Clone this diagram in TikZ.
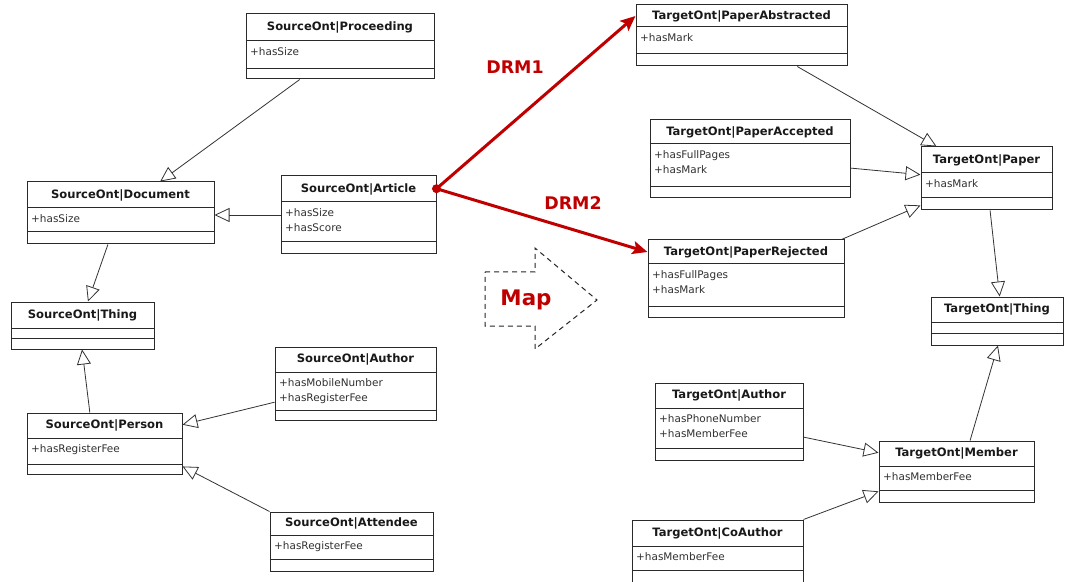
\documentclass[tikz,border=0pt]{standalone}
\usepackage{fontspec}
\setmainfont{DejaVu Sans}
\usetikzlibrary{arrows.meta,calc,fit}
\definecolor{drmred}{HTML}{C00000}
\definecolor{boxline}{HTML}{2A2A2A}
\definecolor{attrtext}{HTML}{303030}
\tikzset{
  umlframe/.style={draw=boxline, line width=1bp, inner sep=0pt, fill=white},
  umlline/.style={draw=boxline, line width=1bp},
  umltitle/.style={inner sep=0pt, font=\bfseries\fontsize{11.6}{13}\selectfont, text=black!90},
  umlattr/.style={anchor=north west, inner xsep=4bp, inner ysep=6.5bp, align=left,
    font=\fontsize{10.5}{15}\selectfont, text=attrtext},
  gen/.style={draw=black!80, line width=0.8bp, -{Triangle[open, length=15bp, width=14bp]}},
  drm/.style={draw=drmred, line width=3bp, -{Stealth[length=15bp, width=13bp, inset=3bp]}},
  drmlabel/.style={text=drmred, font=\bfseries\fontsize{17.5}{19}\selectfont, inner sep=0pt},
  maplabel/.style={text=drmred, font=\bfseries\fontsize{21.5}{24}\selectfont, inner sep=0pt},
  mapshape/.style={draw=black!85, line width=1bp, dash pattern=on 5bp off 4bp}
}
\newcommand\umlcls[9]{%
  \node[umlframe, fit={(#2,#3)(#4,#7)}] (#1) {};
  \draw[umlline] (#2,#5) -- (#4,#5);
  \draw[umlline] (#2,#6) -- (#4,#6);
  \node[umltitle] (#1-t) at ($(#2,#3)!0.5!(#4,#5)$) {#8};
  \node[umlattr] (#1-a) at (#2,#5) {#9};
}
\begin{document}
\begin{tikzpicture}[x=1bp, y=-1bp]
\useasboundingbox[fill=white] (0,0) rectangle (1065,582);

% Source ontology
\umlcls{sproc}{246}{14}{434}{41}{69}{79}{SourceOnt|Proceeding}{+hasSize}
\umlcls{sdoc}{27}{182}{214}{208}{232}{244}{SourceOnt|Document}{+hasSize}
\umlcls{sart}{281}{176}{436}{202}{242}{254}{SourceOnt|Article}{+hasSize\\+hasScore}
\umlcls{sthing}{11}{302}{154}{328}{338}{349}{SourceOnt|Thing}{}
\umlcls{sperson}{27}{413}{182}{438}{464}{474}{SourceOnt|Person}{+hasRegisterFee}
\umlcls{sauthor}{275}{347}{436}{372}{410}{420}{SourceOnt|Author}{+hasMobileNumber\\+hasRegisterFee}
\umlcls{sattend}{270}{512}{433}{535}{559}{571}{SourceOnt|Attendee}{+hasRegisterFee}

% Target ontology
\umlcls{tabs}{636}{5}{847}{27}{54}{66}{TargetOnt|PaperAbstracted}{+hasMark}
\umlcls{tacc}{650}{120}{850}{144}{187}{198}{TargetOnt|PaperAccepted}{+hasFullPages\\+hasMark}
\umlcls{trej}{648}{240}{844}{264}{306}{317}{TargetOnt|PaperRejected}{+hasFullPages\\+hasMark}
\umlcls{tpaper}{921}{147}{1052}{173}{198}{210}{TargetOnt|Paper}{+hasMark}
\umlcls{tthing}{931}{297}{1063}{322}{333}{345}{TargetOnt|Thing}{}
\umlcls{tauthor}{655}{383}{803}{408}{448}{460}{TargetOnt|Author}{+hasPhoneNumber\\+hasMemberFee}
\umlcls{tmember}{879}{441}{1034}{466}{490}{502}{TargetOnt|Member}{+hasMemberFee}
\umlcls{tcoauth}{632}{520}{803}{546}{570}{582}{TargetOnt|CoAuthor}{+hasMemberFee}

% Source generalizations
\draw[gen] ($(sproc.south west)!0.287!(sproc.south east)$) -- ($(sdoc.north west)!0.711!(sdoc.north east)$);
\draw[gen] (sart.west) -- (sart.west -| sdoc.east);
\draw[gen] ($(sdoc.south west)!0.433!(sdoc.south east)$) -- ($(sthing.north west)!0.538!(sthing.north east)$);
\draw[gen] ($(sperson.north west)!0.406!(sperson.north east)$) -- ($(sthing.south west)!0.497!(sthing.south east)$);
\draw[gen] ($(sauthor.north west)!0.753!(sauthor.south west)$) -- ($(sperson.north east)!0.197!(sperson.south east)$);
\draw[gen] (sattend.north west) -- ($(sperson.north east)!0.87!(sperson.south east)$);

% Target generalizations
\draw[gen] ($(tabs.south west)!0.763!(tabs.south east)$) -- ($(tpaper.north west)!0.122!(tpaper.north east)$);
\draw[gen] ($(tacc.north east)!0.615!(tacc.south east)$) -- ($(tpaper.north west)!0.44!(tpaper.south west)$);
\draw[gen] ($(trej.north east)+(-3,0)$) -- ($(tpaper.north west)!0.92!(tpaper.south west)$);
\draw[gen] ($(tpaper.south west)!0.527!(tpaper.south east)$) -- ($(tthing.north west)!0.52!(tthing.north east)$);
\draw[gen] ($(tmember.north west)!0.587!(tmember.north east)$) -- ($(tthing.south west)!0.507!(tthing.south east)$);
\draw[gen] ($(tauthor.north east)!0.70!(tauthor.south east)$) -- ($(tmember.north west)!0.197!(tmember.south west)$);
\draw[gen] (tcoauth.north east) -- ($(tmember.north west)!0.82!(tmember.south west)$);

% DRM mappings
\coordinate (drmstart) at ($(sart.north east)!0.167!(sart.south east)$);
\draw[drm] (drmstart) -- (tabs-t.center -| tabs.west);
\draw[drm] (drmstart) -- (trej-t.center -| trej.west);
\fill[drmred] (drmstart) circle (4.5bp);
\node[drmlabel] (drm1) at (515,67) {DRM1};
\node[drmlabel] (drm2) at (573,203) {DRM2};

% Map arrow
\draw[mapshape] (485,272) -- (535,272) -- (535,248) -- (597,300) -- (535,349) -- (535,326) -- (485,326) -- cycle;
\node[maplabel] (maptext) at (526,300) {Map};
\end{tikzpicture}
\end{document}
